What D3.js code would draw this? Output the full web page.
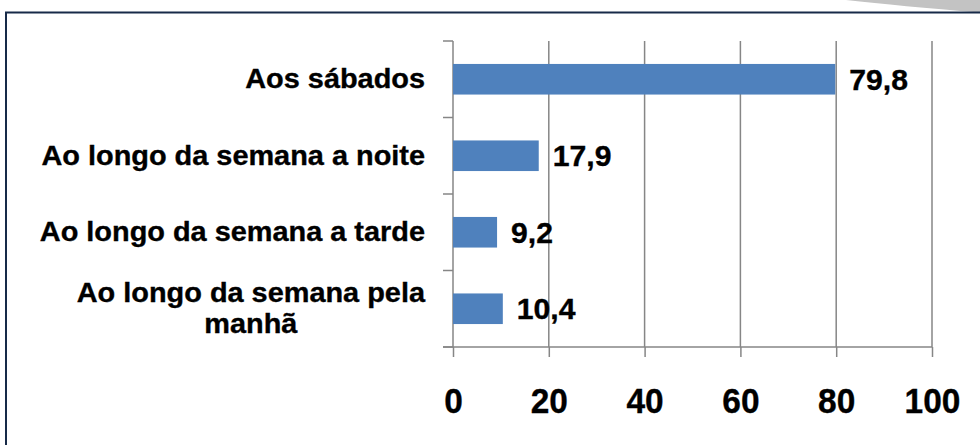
<!DOCTYPE html>
<html>
<head>
<meta charset="utf-8">
<script src="https://cdn.jsdelivr.net/npm/d3@7"></script>
<style>
  html, body { margin: 0; padding: 0; background: #fff; }
  svg { display: block; font-family: "Liberation Sans", Arial, sans-serif; font-weight: bold; }
  text { stroke: #000; stroke-width: 0.35px; }
</style>
</head>
<body>
<svg id="chart" width="980" height="445"></svg>
<script>
const categories = [
  "Aos sábados",
  "Ao longo da semana a noite",
  "Ao longo da semana a tarde",
  "Ao longo da semana pela manhã"
];
const categoryLines = [
  ["Aos sábados"],
  ["Ao longo da semana a noite"],
  ["Ao longo da semana a tarde"],
  ["Ao longo da semana pela", "manhã"]
];
const values = [79.8, 17.9, 9.2, 10.4];
const xTicks = [0, 20, 40, 60, 80, 100];

const svg = d3.select("#chart");
const stretch = 1.07;
const gridColor = "#868686";
const barColor = "#4f81bd";

// frame & decoration
svg.append("path")
  .attr("d", "M846,0 Q900,6 980,12.5 L980,0 Z")
  .attr("fill", "#c3c3c3");
svg.append("rect")
  .attr("x", 6).attr("y", 12.5)
  .attr("width", 1100).attr("height", 600)
  .attr("fill", "none")
  .attr("stroke", "#172a48")
  .attr("stroke-width", 2);

const x = d3.scaleLinear().domain([0, 100]).range([453, 932]);
const y = d3.scaleBand().domain(categories).range([41, 347])
  .paddingInner(0.6).paddingOuter(0.3);

const fmt = d3.formatLocale({decimal: ",", thousands: ".", grouping: [3], currency: ["", ""]}).format(".1f");

// vertical gridlines
svg.append("g").selectAll("line").data(xTicks.slice(1)).join("line")
  .attr("x1", d => x(d)).attr("x2", d => x(d))
  .attr("y1", 41).attr("y2", 347)
  .attr("stroke", gridColor).attr("stroke-width", 1.5);

// x axis
const xAxis = svg.append("g")
  .attr("transform", "translate(0,347)")
  .call(d3.axisBottom(x).tickValues(xTicks).tickSize(10).tickSizeOuter(0).tickPadding(0).tickFormat(d3.format("d")));
xAxis.select(".domain").remove();
xAxis.append("line").attr("x1", 443).attr("x2", x(100)).attr("y1", 0).attr("y2", 0)
  .attr("stroke", gridColor).attr("stroke-width", 1.5);
xAxis.selectAll(".tick line").attr("stroke", gridColor).attr("stroke-width", 1.5);
xAxis.selectAll(".tick text")
  .attr("y", 66.5).attr("dy", null)
  .attr("transform", "scale(0.93,1)")
  .attr("fill", "#000")
  .style("font-size", "36px")
  .style("font-family", "'Liberation Sans', Arial, sans-serif")
  .style("font-weight", "bold");

// y axis
const yAxis = svg.append("g")
  .attr("transform", `translate(${x(0)},0)`);
yAxis.append("line").attr("x1", 0).attr("x2", 0).attr("y1", 41).attr("y2", 347)
  .attr("stroke", gridColor).attr("stroke-width", 1.5);
const [r0, r1] = y.range();
const bounds = d3.range(categories.length + 1).map(i => r0 + i * ((r1 - r0) / categories.length));
yAxis.selectAll("line.tk").data(bounds).join("line").attr("class", "tk")
  .attr("x1", -10).attr("x2", 0).attr("y1", d => d).attr("y2", d => d)
  .attr("stroke", gridColor).attr("stroke-width", 1.5);

// bars
svg.append("g").selectAll("rect").data(values).join("rect")
  .attr("x", x(0))
  .attr("y", (d, i) => y(categories[i]))
  .attr("width", d => x(d) - x(0))
  .attr("height", y.bandwidth())
  .attr("fill", barColor);

// value labels
svg.append("g").selectAll("text").data(values).join("text")
  .attr("transform", (d, i) => `translate(${x(d) + 14},${y(categories[i]) + y.bandwidth() / 2 + 10.5}) scale(1.04,1)`)
  .attr("font-size", 29)
  .attr("fill", "#000")
  .text(d => fmt(d));

// category labels
const labelG = svg.append("g").selectAll("g").data(categoryLines).join("g")
  .attr("transform", (d, i) => {
    const cy = y(categories[i]) + y.bandwidth() / 2;
    return `translate(425,${cy}) scale(${stretch},1)`;
  });
labelG.each(function(lines) {
  const g = d3.select(this);
  const lh = 31;
  const n = lines.length;
  if (n === 1) {
    g.append("text").attr("text-anchor", "end").attr("y", 9)
      .attr("font-size", 27).attr("fill", "#000").text(lines[0]);
  } else {
    const texts = lines.map((t, j) => g.append("text")
      .attr("font-size", 27).attr("fill", "#000")
      .attr("y", 9 + (j - (n - 1) / 2) * lh).text(t));
    const widths = texts.map(t => t.node().getComputedTextLength());
    const maxW = d3.max(widths);
    texts.forEach(t => t.attr("text-anchor", "middle").attr("x", -maxW / 2));
  }
});
</script>
</body>
</html>
